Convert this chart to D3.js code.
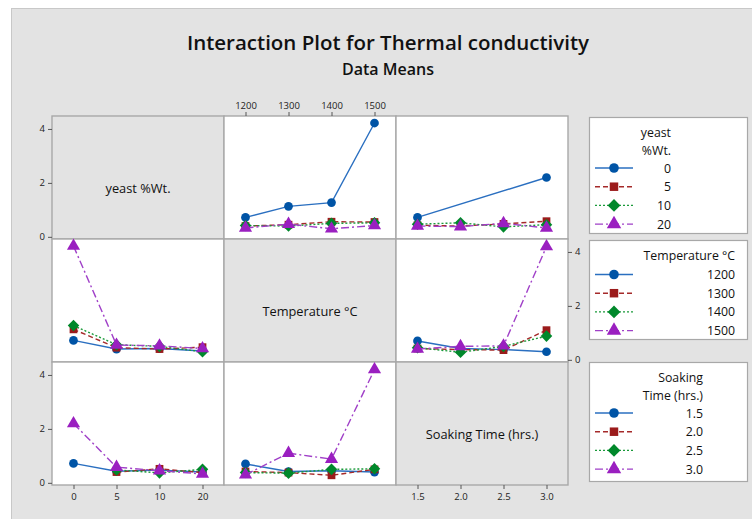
<!DOCTYPE html>
<html><head><meta charset="utf-8">
<script src="https://cdn.jsdelivr.net/npm/d3@7"></script>
<style>
html,body{margin:0;padding:0;background:#fff;}
svg{display:block;font-family:"Open Sans","Noto Sans",sans-serif;}
</style></head>
<body>
<svg id="chart" width="752" height="519"></svg>
<script>
// ---- data ----
const factorNames = ["yeast %Wt.", "Temperature °C", "Soaking Time (hrs.)"];
const legendTitles = [["yeast", "%Wt."], ["Temperature °C"], ["Soaking", "Time (hrs.)"]];
const yeastLevels = ["0", "5", "10", "20"];
const tempLevels = ["1200", "1300", "1400", "1500"];
const soakLevels = ["1.5", "2.0", "2.5", "3.0"];
// means[yeast][temperature]
const meansYeastTemp = [
  [0.72, 1.13, 1.27, 4.22],
  [0.40, 0.45, 0.56, 0.55],
  [0.42, 0.40, 0.50, 0.52],
  [0.33, 0.47, 0.30, 0.42]
];
// means[yeast][soaking time]  (no data for yeast 0 at 2.0 and 2.5 h)
const meansYeastSoak = [
  [0.72, null, null, 2.20],
  [0.43, 0.40, 0.48, 0.58],
  [0.47, 0.52, 0.37, 0.45],
  [0.40, 0.38, 0.50, 0.33]
];
// means[temperature][soaking time]
const meansTempSoak = [
  [0.70, 0.42, 0.38, 0.30],
  [0.42, 0.38, 0.36, 1.10],
  [0.45, 0.28, 0.50, 0.88],
  [0.40, 0.50, 0.52, 4.20]
];
const yTicks = [0, 2, 4];

// ---- styling ----
const levels = [yeastLevels, tempLevels, soakLevels];
const colors = ["#0054a6", "#9b1b1b", "#00882b", "#9a1fc0"];
const lineColors = ["#2a6fc0", "#a52a2a", "#1a9a3a", "#a040c8"];
const dashes = [null, "5,3", "2,2", "8,3,2,3"];
const markers = [d3.symbolCircle, d3.symbolSquare, d3.symbolDiamond2, d3.symbolTriangle];
const markerSizes = [60, 60, 85, 75];

function mean(vLine, iLine, vX, iX) {
  const key = [vLine, vX].sort().join("");
  const a = vLine < vX ? iLine : iX, b = vLine < vX ? iX : iLine;
  if (key === "01") return meansYeastTemp[a][b];
  if (key === "02") return meansYeastSoak[a][b];
  return meansTempSoak[a][b];
}

const svg = d3.select("#chart");
svg.append("rect").attr("x", 11.5).attr("y", 8.5).attr("width", 760).attr("height", 530)
  .attr("fill", "#e3e3e3").attr("stroke", "#c8c8c8");

svg.append("text").attr("x", 388).attr("y", 50).attr("text-anchor", "middle")
  .attr("font-size", 20.5).attr("font-weight", 600).attr("fill", "#111")
  .text("Interaction Plot for Thermal conductivity");
svg.append("text").attr("x", 388).attr("y", 75).attr("text-anchor", "middle")
  .attr("font-size", 16).attr("font-weight", 600).attr("fill", "#111")
  .text("Data Means");

const X0 = [52, 224, 396], Y0 = [116, 239, 362], W = 172, H = 123;
const xScales = levels.map((lv, c) => d3.scalePoint().domain(lv).range([X0[c], X0[c] + W]).padding(0.5));
const yScales = Y0.map(y0 => d3.scaleLinear().domain([-0.08, 4.48]).range([y0 + H, y0]));

const grid = svg.append("g");
for (let r = 0; r < 3; r++) {
  for (let c = 0; c < 3; c++) {
    const g = grid.append("g");
    g.append("rect").attr("x", X0[c]).attr("y", Y0[r]).attr("width", W).attr("height", H)
      .attr("fill", r === c ? "#e3e3e3" : "#fff").attr("stroke", "#a8a8a8").attr("stroke-width", 1.4);
    if (r === c) {
      g.append("text").attr("x", X0[c] + W / 2).attr("y", Y0[r] + H / 2 + 15)
        .attr("text-anchor", "middle").attr("font-size", 12.8).attr("fill", "#111")
        .text(factorNames[r]);
      continue;
    }
    const xs = xScales[c], ys = yScales[r];
    levels[r].forEach((lvl, i) => {
      const pts = levels[c].map((xl, j) => ({ x: xl, v: mean(r, i, c, j) })).filter(p => p.v !== null);
      const line = d3.line().x(p => xs(p.x)).y(p => ys(p.v));
      g.append("path").attr("d", line(pts)).attr("fill", "none")
        .attr("stroke", lineColors[i]).attr("stroke-width", 1.4)
        .attr("stroke-dasharray", dashes[i]);
      g.selectAll(null).data(pts).enter().append("path")
        .attr("transform", p => `translate(${xs(p.x)},${ys(p.v)})`)
        .attr("d", d3.symbol().type(markers[i]).size(markerSizes[i]))
        .attr("fill", colors[i]);
    });
  }
}

function styleAxis(g) {
  g.select(".domain").remove();
  g.selectAll(".tick line").attr("stroke", "#555");
  g.selectAll(".tick text").attr("fill", "#222").attr("font-size", 9.5)
    .attr("font-family", "'Open Sans','Noto Sans',sans-serif");
}
const fmt = d3.format("d");
// y axes
[0, 2].forEach(r => {
  svg.append("g").attr("transform", `translate(${X0[0]},0)`)
    .call(d3.axisLeft(yScales[r]).tickValues(yTicks).tickFormat(fmt).tickSize(4).tickPadding(3)).call(styleAxis);
});
svg.append("g").attr("transform", `translate(${X0[2] + W},0)`)
  .call(d3.axisRight(yScales[1]).tickValues(yTicks).tickFormat(fmt).tickSize(4).tickPadding(3)).call(styleAxis);
// x axes
svg.append("g").attr("transform", `translate(0,${Y0[0]})`)
  .call(d3.axisTop(xScales[1]).tickSize(4).tickPadding(3)).call(styleAxis);
[0, 2].forEach(c => {
  svg.append("g").attr("transform", `translate(0,${Y0[2] + H})`)
    .call(d3.axisBottom(xScales[c]).tickSize(4).tickPadding(4)).call(styleAxis);
});

// legends
const legBoxes = [
  { y: 117, h: 116, right: 671 },
  { y: 240, h: 99, right: 735 },
  { y: 362, h: 119, right: 703 }
];
legBoxes.forEach((b, k) => {
  const g = svg.append("g");
  g.append("rect").attr("x", 589.5).attr("y", b.y + 0.5).attr("width", 158).attr("height", b.h)
    .attr("fill", "#fff").attr("stroke", "#a8a8a8").attr("stroke-width", 1.2);
  const titles = legendTitles[k];
  titles.forEach((t, ti) => {
    g.append("text").attr("x", b.right).attr("y", b.y + 20 + ti * 17.5)
      .attr("text-anchor", "end").attr("font-size", 12.3).attr("fill", "#111").text(t);
  });
  const startY = b.y + 16 + titles.length * 17.5 + (titles.length === 1 ? 1 : 0);
  levels[k].forEach((lvl, i) => {
    const yy = startY + i * 18.7;
    g.append("line").attr("x1", 595).attr("x2", 633).attr("y1", yy).attr("y2", yy)
      .attr("stroke", lineColors[i]).attr("stroke-width", 1.4).attr("stroke-dasharray", dashes[i]);
    g.append("path").attr("transform", `translate(614,${yy})`)
      .attr("d", d3.symbol().type(markers[i]).size(markerSizes[i] * 1.2)).attr("fill", colors[i]);
    g.append("text").attr("x", b.right).attr("y", yy + 4.5).attr("text-anchor", "end")
      .attr("font-size", 12.3).attr("fill", "#111").text(lvl);
  });
});
</script>
</body></html>
